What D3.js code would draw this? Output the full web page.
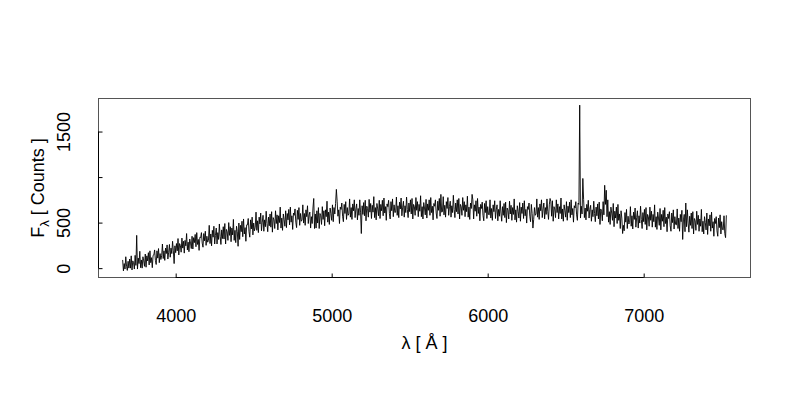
<!DOCTYPE html>
<html>
<head>
<meta charset="utf-8">
<script src="https://cdn.jsdelivr.net/npm/d3@7"></script>
<style>
  html, body { margin: 0; padding: 0; background: #fff; }
  svg { display: block; font-family: "Liberation Sans", Arial, Helvetica, sans-serif; }
</style>
</head>
<body>
<svg id="chart" width="800" height="400"></svg>
<script>
// Wavelength grid start/step (Angstrom) and flux values (counts)
const lambdaStart = 3660;
const lambdaStep = 5;
const flux = [
  90,-30,50,-10,125,20,-25,75,0,100,
  0,135,-20,80,60,-10,140,30,360,-10,
  110,50,185,5,90,0,125,80,20,155,
  10,135,80,170,35,190,60,115,5,140,
  145,200,85,40,190,110,215,60,160,95,
  135,265,105,190,85,220,160,255,100,175,
  260,120,220,160,295,190,50,245,170,270,
  190,325,145,270,250,175,330,220,295,165,
  305,245,380,200,285,180,320,275,215,350,
  210,335,280,370,235,390,260,315,195,340,
  335,390,275,230,380,300,405,250,350,285,
  305,470,270,375,245,415,340,460,265,360,
  440,265,390,315,485,350,260,420,325,455,
  320,490,265,425,400,305,500,360,455,290,
  440,365,535,305,415,280,460,400,240,495,
  315,470,400,515,345,540,375,445,295,475,
  475,545,400,340,530,430,560,365,495,410,
  450,615,415,520,390,560,485,605,410,505,
  580,405,530,455,625,490,400,560,465,595,
  450,620,395,555,530,435,630,490,585,420,
  575,500,670,440,550,415,595,535,460,630,
  445,600,530,645,475,670,505,575,425,605,
  580,650,505,445,635,535,665,470,600,515,
  530,695,495,600,470,640,565,685,490,585,
  615,440,565,490,660,765,435,595,440,630,
  495,665,435,600,575,480,675,535,630,465,
  640,565,735,505,615,480,660,600,525,695,
  510,665,595,710,865,735,570,640,490,670,
  645,715,570,510,700,600,730,535,665,580,
  595,760,560,665,535,705,630,750,555,650,
  705,530,655,580,750,615,380,685,590,720,
  575,745,520,680,655,560,755,615,710,545,
  690,615,785,555,665,530,710,650,575,745,
  545,700,630,745,575,770,605,675,525,705,
  675,745,600,540,730,630,760,565,695,610,
  615,780,580,685,555,725,650,770,575,670,
  735,560,685,610,780,645,555,715,620,750,
  595,765,540,700,675,580,775,635,730,565,
  700,625,795,565,675,540,720,660,585,755,
  550,705,635,750,580,775,610,680,530,710,
  680,750,605,545,735,635,765,570,810,615,
  620,785,585,690,560,730,655,775,580,675,
  735,560,685,610,800,645,555,715,620,750,
  595,765,540,700,675,580,775,635,730,565,
  695,620,790,560,670,535,715,655,810,750,
  540,695,625,740,570,765,600,670,520,700,
  655,725,580,520,710,610,740,545,675,590,
  585,750,550,655,525,695,620,740,545,640,
  695,520,645,570,740,605,515,675,580,710,
  555,725,500,660,635,540,735,595,690,525,
  665,590,760,530,640,505,685,625,550,720,
  515,670,600,715,545,740,575,645,495,675,
  645,715,570,510,700,600,440,535,665,580,
  595,760,560,665,535,705,630,750,555,650,
  715,540,665,590,760,625,535,695,765,730,
  570,740,515,675,650,555,750,610,705,540,
  675,600,770,540,650,515,695,635,560,730,
  525,680,610,725,555,750,585,655,505,685,
  660,730,585,525,715,700,1790,550,680,595,
  985,755,555,660,530,700,625,745,550,645,
  690,515,640,565,735,600,510,670,575,705,
  540,725,480,650,625,520,730,585,910,700,
  855,565,750,505,620,480,670,605,525,710,
  455,625,550,670,490,700,525,595,435,630,
  550,380,470,410,610,505,645,435,570,485,
  500,675,460,575,430,615,535,660,450,555,
  630,440,575,495,680,535,435,610,510,645,
  480,665,420,590,565,460,670,525,625,450,
  590,510,695,450,565,425,615,550,470,655,
  420,590,515,635,455,665,490,560,400,595,
  545,620,465,405,605,500,640,430,565,480,
  475,650,435,550,405,590,510,635,315,530,
  590,400,715,455,640,495,395,570,470,605,
  435,620,375,545,520,415,625,480,580,405,
  540,460,645,400,515,375,565,500,420,605,
  370,540,465,585,405,615,440,510,350,545,
  490,565,410,350,550,445,585,375,510,425,
  420,575,380,335,580
];
const xTicks = [4000, 5000, 6000, 7000];
const yTicks = [0, 500, 1000, 1500];
const yTickLabels = ["0", "500", "", "1500"];
const xLabel = "λ [ Å ]";
const yLabelMain = "F";
const yLabelSub = "λ";
const yLabelRest = " [ Counts ]";

const data = flux.map((v, i) => ({ x: lambdaStart + i * lambdaStep, y: v }));

const svg = d3.select("#chart");
const L = 98.5, R = 750.5, T = 98.5, B = 277.5;

function padded(ext) {
  const d = (ext[1] - ext[0]) * 0.04;
  return [ext[0] - d, ext[1] + d];
}
const x = d3.scaleLinear().domain(padded(d3.extent(data, d => d.x))).range([L, R]);
const y = d3.scaleLinear().domain(padded(d3.extent(data, d => d.y))).range([B, T]);

// spectrum
svg.append("path")
  .datum(data)
  .attr("fill", "none")
  .attr("stroke", "#000")
  .attr("stroke-width", 0.9)
  .attr("stroke-linejoin", "miter")
  .attr("d", d3.line().x(d => x(d.x)).y(d => y(d.y)));

// box
svg.append("rect")
  .attr("x", L).attr("y", T)
  .attr("width", R - L).attr("height", B - T)
  .attr("fill", "none").attr("stroke", "#555").attr("stroke-width", 1);

// x axis (ticks inward)
const xAxis = d3.axisBottom(x).tickValues(xTicks).tickSize(-4).tickSizeOuter(0).tickFormat(d3.format("d"));
const gx = svg.append("g").attr("transform", `translate(0,${B})`).call(xAxis);
gx.select(".domain").remove();
gx.append("line")
  .attr("x1", x(xTicks[0])).attr("x2", x(xTicks[xTicks.length - 1]))
  .attr("y1", 0).attr("y2", 0).attr("stroke", "#000");
gx.selectAll(".tick line").attr("stroke", "#000");
gx.selectAll(".tick text")
  .attr("font-size", 18).attr("fill", "#000")
  .attr("font-family", "Liberation Sans, Arial, sans-serif")
  .attr("y", 0).attr("dy", "0").attr("transform", "translate(0,44)");

// y axis (ticks inward)
const yAxis = d3.axisLeft(y).tickValues(yTicks).tickSize(-4).tickSizeOuter(0).tickFormat((d, i) => yTickLabels[i]);
const gy = svg.append("g").attr("transform", `translate(${L},0)`).call(yAxis);
gy.select(".domain").remove();
gy.append("line")
  .attr("y1", y(yTicks[0])).attr("y2", y(yTicks[yTicks.length - 1]))
  .attr("x1", 0).attr("x2", 0).attr("stroke", "#000");
gy.selectAll(".tick line").attr("stroke", "#000");
gy.selectAll(".tick text").remove();
gy.selectAll(".tick").append("text")
  .attr("transform", "translate(-35,0) rotate(-90)")
  .attr("text-anchor", "middle")
  .attr("dy", "0.35em")
  .attr("font-size", 18)
  .attr("fill", "#000")
  .text((d, i) => yTickLabels[i]);

// x label
svg.append("text")
  .attr("x", (L + R) / 2).attr("y", 349)
  .attr("text-anchor", "middle")
  .attr("font-size", 18)
  .attr("fill", "#000")
  .text(xLabel);

// y label
const yl = svg.append("text")
  .attr("transform", `translate(44,${(T + B) / 2}) rotate(-90)`)
  .attr("text-anchor", "middle")
  .attr("font-size", 18)
  .attr("fill", "#000");
yl.append("tspan").text(yLabelMain);
yl.append("tspan").attr("font-size", 13).attr("dy", 5).text(yLabelSub);
yl.append("tspan").attr("dy", -5).text(yLabelRest);
</script>
</body>
</html>
